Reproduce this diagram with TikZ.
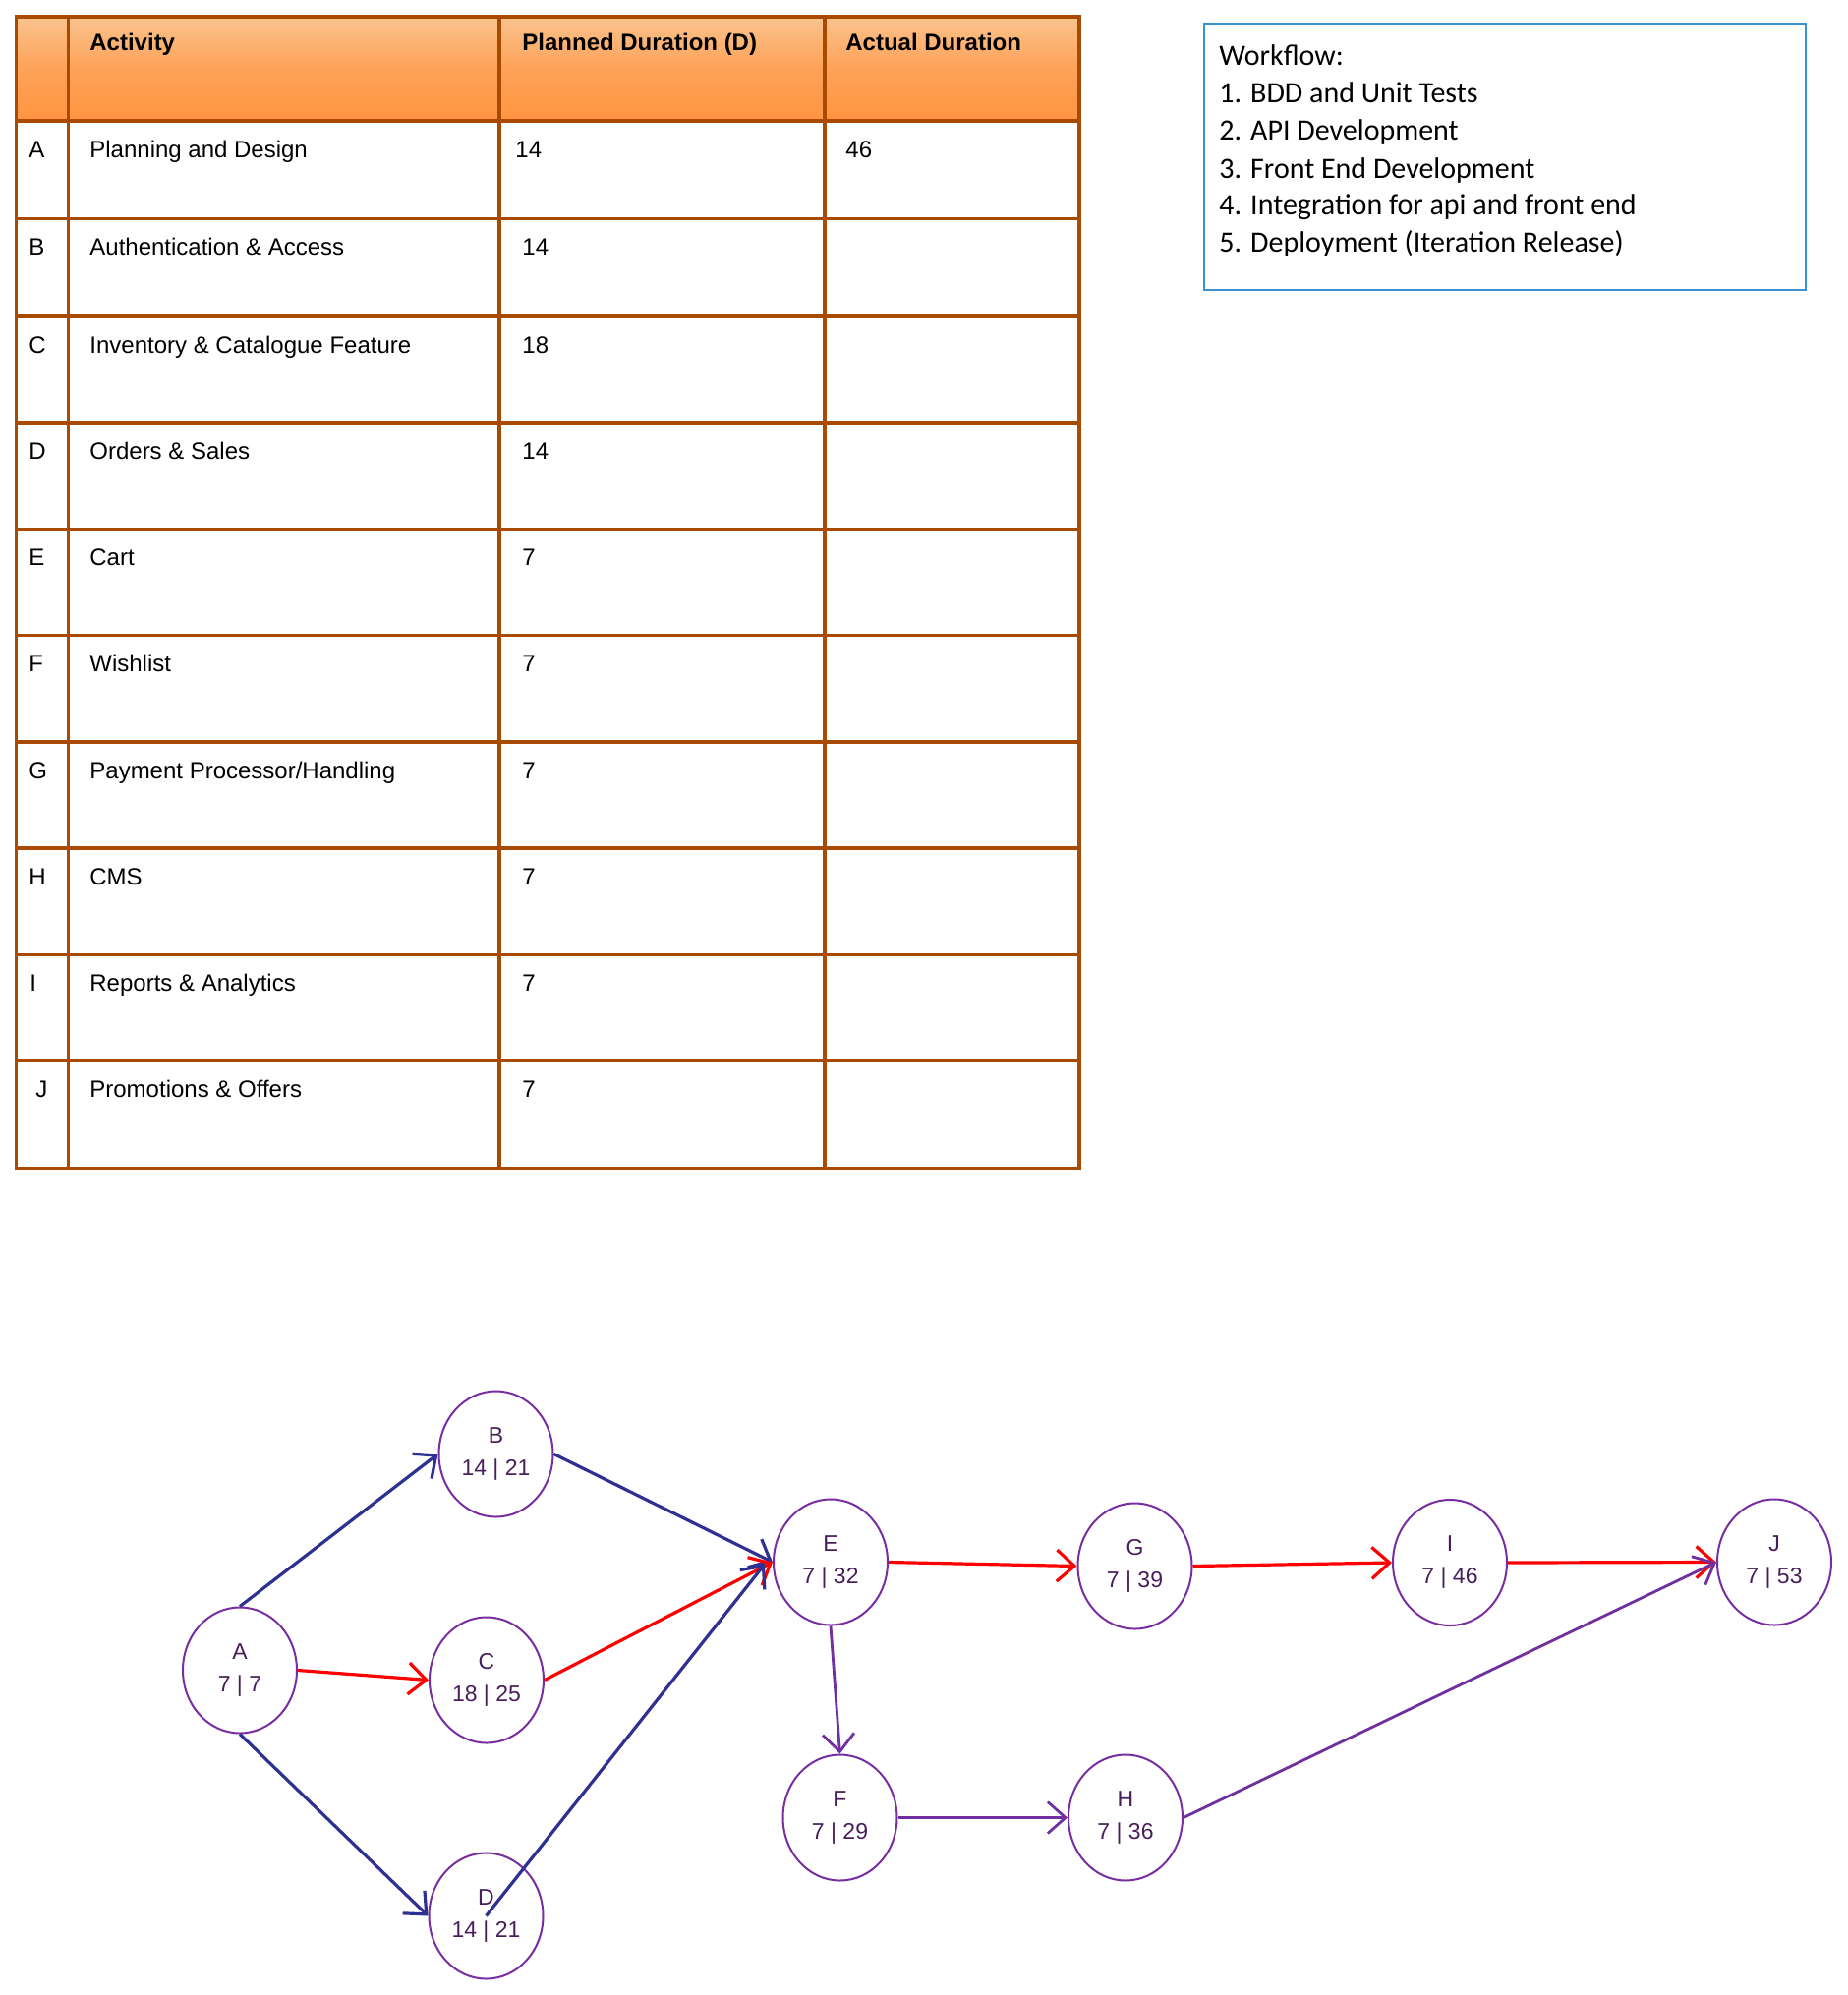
\documentclass[tikz,border=0pt]{standalone}
\usepackage{fontspec}
\setmainfont{Liberation Sans}
\newfontfamily\wffont{Carlito}
\usetikzlibrary{arrows.meta,shapes.geometric}

\definecolor{tabline}{RGB}{168,74,0}
\definecolor{headtop}{RGB}{250,195,142}
\definecolor{headbot}{RGB}{255,148,64}
\definecolor{wfblue}{RGB}{58,145,212}
\definecolor{netblue}{RGB}{46,49,146}
\definecolor{netpurple}{RGB}{112,48,160}
\definecolor{ringpurple}{RGB}{120,45,160}
\definecolor{inkpurple}{RGB}{72,30,90}

\begin{document}
\begin{tikzpicture}[x=0.5pt,y=-0.5pt,>={Straight Barb[length=9pt,width=16pt]}]
  \tikzstyle{cell}=[anchor=base west,inner sep=0pt,font=\fontsize{12}{14}\selectfont]
  \tikzstyle{head}=[cell,font=\fontsize{12}{14}\selectfont\bfseries]
  \tikzstyle{table rule}=[draw=tabline,line width=1.6pt]
  \tikzstyle{wfline}=[anchor=base west,inner sep=0pt,font=\wffont\fontsize{15}{18}\selectfont]
  \tikzstyle{event}=[ellipse,draw=ringpurple,line width=1pt,minimum width=58pt,
                     minimum height=64pt,inner sep=0pt,align=center,text=inkpurple,
                     font=\fontsize{11.5}{16.5}\selectfont]
  \tikzstyle{blue path}=[->,draw=netblue,line width=1.6pt]
  \tikzstyle{red path}=[->,draw=red,line width=1.6pt]
  \tikzstyle{purple path}=[->,draw=netpurple,line width=1.4pt]
  \useasboundingbox (0,0) rectangle (1880,2030);

  % activity table
  \shade[top color=headtop,bottom color=headbot,middle color=headbot!70!headtop]
    (16.5,17) rectangle (1098,123);
  \draw[table rule] (16.5,17) rectangle (1098,1189);
  \draw[table rule] (69.5,17) -- (69.5,1189) (508,17) -- (508,1189) (839,17) -- (839,1189);
  \draw[table rule] (16.5,123) -- (1098,123) (16.5,222.5) -- (1098,222.5)
    (16.5,322) -- (1098,322) (16.5,430) -- (1098,430) (16.5,538.5) -- (1098,538.5)
    (16.5,646.5) -- (1098,646.5) (16.5,755) -- (1098,755) (16.5,863) -- (1098,863)
    (16.5,971.5) -- (1098,971.5) (16.5,1079.5) -- (1098,1079.5);

  \node[head] (hAct) at (91,51) {Activity};
  \node[head] (hPlan) at (531,51) {Planned Duration (D)};
  \node[head] (hReal) at (860,51) {Actual Duration};

  \node[cell] (idA) at (29,160) {A};
  \node[cell] (actA) at (91,160) {Planning and Design};
  \node[cell] (durA) at (524,160) {14};
  \node[cell] (realA) at (860,160) {46};
  \node[cell] (idB) at (29,259) {B};
  \node[cell] (actB) at (91,259) {Authentication \& Access};
  \node[cell] (durB) at (531,259) {14};
  \node[cell] (idC) at (29,359) {C};
  \node[cell] (actC) at (91,359) {Inventory \& Catalogue Feature};
  \node[cell] (durC) at (531,359) {18};
  \node[cell] (idD) at (29,467) {D};
  \node[cell] (actD) at (91,467) {Orders \& Sales};
  \node[cell] (durD) at (531,467) {14};
  \node[cell] (idE) at (29,575.5) {E};
  \node[cell] (actE) at (91,575.5) {Cart};
  \node[cell] (durE) at (531,575.5) {7};
  \node[cell] (idF) at (29,683.5) {F};
  \node[cell] (actF) at (91,683.5) {Wishlist};
  \node[cell] (durF) at (531,683.5) {7};
  \node[cell] (idG) at (29,792) {G};
  \node[cell] (actG) at (91,792) {Payment Processor/Handling};
  \node[cell] (durG) at (531,792) {7};
  \node[cell] (idH) at (29,900) {H};
  \node[cell] (actH) at (91,900) {CMS};
  \node[cell] (durH) at (531,900) {7};
  \node[cell] (idI) at (30,1008.5) {I};
  \node[cell] (actI) at (91,1008.5) {Reports \& Analytics};
  \node[cell] (durI) at (531,1008.5) {7};
  \node[cell] (idJ) at (36,1116.5) {J};
  \node[cell] (actJ) at (91,1116.5) {Promotions \& Offers};
  \node[cell] (durJ) at (531,1116.5) {7};

  % workflow box
  \draw[draw=wfblue,line width=1pt] (1225,24) rectangle (1837,295);
  \node[wfline] (wf0) at (1240,66) {Workflow:};
  \node[wfline] (wf1) at (1240,104.5) {1. BDD and Unit Tests};
  \node[wfline] (wf2) at (1240,142.5) {2. API Development};
  \node[wfline] (wf3) at (1240,181) {3. Front End Development};
  \node[wfline] (wf4) at (1240,218.5) {4. Integration for api and front end};
  \node[wfline] (wf5) at (1240,256.5) {5. Deployment (Iteration Release)};

  % activity network
  \node[event] (A) at (244,1699.5) {A\\7 | 7};
  \node[event] (B) at (504.5,1479.5) {B\\14 | 21};
  \node[event] (C) at (495,1709.5) {C\\18 | 25};
  \node[event] (D) at (494.5,1949.5) {D\\14 | 21};
  \node[event] (E) at (845,1589.5) {E\\7 | 32};
  \node[event] (F) at (854.5,1849.5) {F\\7 | 29};
  \node[event] (G) at (1154.5,1593.5) {G\\7 | 39};
  \node[event] (H) at (1145,1849.5) {H\\7 | 36};
  \node[event] (I) at (1475,1590) {I\\7 | 46};
  \node[event] (J) at (1805,1589.5) {J\\7 | 53};

  \draw[blue path] (A.north) -- (B.west);
  \draw[red path] (A.east) -- (C.west);
  \draw[blue path] (A.south) -- (D.west);
  \draw[blue path] (B.east) -- (E.west);
  \draw[red path] (C.east) -- (E.west);
  \draw[blue path] (D.center) -- ([xshift=-4pt,yshift=-1pt]E.west);
  \draw[red path] (E.east) -- (G.west);
  \draw[purple path] (E.south) -- (F.north);
  \draw[red path] (G.east) -- (I.west);
  \draw[red path] (I.east) -- (J.west);
  \draw[purple path] (F.east) -- (H.west);
  \draw[purple path] (H.east) -- (J.west);
\end{tikzpicture}
\end{document}
